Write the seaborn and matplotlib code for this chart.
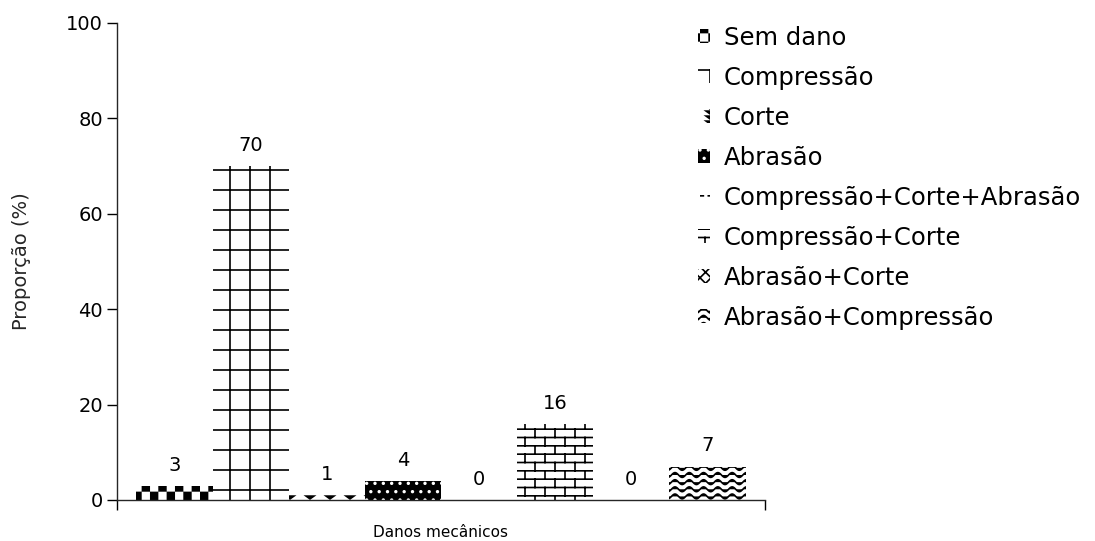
import warnings
import numpy as np
import pandas as pd
import matplotlib
matplotlib.use("Agg")
import matplotlib.pyplot as plt
import matplotlib.patches as mpatches
from matplotlib import hatch as mhatch
from matplotlib.path import Path
import seaborn as sns

warnings.filterwarnings("ignore")

# ---------------------------------------------------------------- data
categorias = [
    "Sem dano",
    "Compressão",
    "Corte",
    "Abrasão",
    "Compressão+Corte+Abrasão",
    "Compressão+Corte",
    "Abrasão+Corte",
    "Abrasão+Compressão",
]
proporcao = [3, 70, 1, 4, 0, 16, 0, 7]
grupo = "Danos mecânicos"
eixo_y = "Proporção (%)"
yticks = [0, 20, 40, 60, 80, 100]


# ---------------------------------------------------------------- custom hatch tiles
class _TileHatch(mhatch.HatchPatternBase):
    """Hatch drawn from a list of polylines inside the unit tile."""
    symbol = None

    def __init__(self, hatch, density):
        self.lines = self.build() if hatch.count(self.symbol) > 0 else []
        self.num_vertices = sum(len(p) for p, _ in self.lines)

    def build(self):
        return []

    def set_vertices_and_codes(self, vertices, codes):
        i = 0
        for pts, closed in self.lines:
            n = len(pts)
            vertices[i:i + n] = pts
            codes[i] = Path.MOVETO
            codes[i + 1:i + n] = Path.LINETO
            if closed:
                codes[i + n - 1] = Path.CLOSEPOLY
            i += n


def _square(x0, y0, x1, y1):
    return np.array([[x0, y0], [x1, y0], [x1, y1], [x0, y1], [x0, y0]])


class CheckerHatch(_TileHatch):
    symbol = "c"

    def build(self, n=12, e=0.008):
        c = 1.0 / n
        out = []
        for i in range(n):
            for j in range(n):
                if (i + j) % 2 == 0:
                    out.append((_square(i * c + e, j * c + e,
                                        (i + 1) * c - e, (j + 1) * c - e), True))
        return out


class GridHatch(_TileHatch):
    symbol = "g"

    def build(self, n=5):
        out = []
        for k in range(n):
            p = (k + 0.5) / n
            out.append((np.array([[p, 0.0], [p, 1.0]]), False))
            out.append((np.array([[0.0, p], [1.0, p]]), False))
        return out


class BrickHatch(_TileHatch):
    symbol = "b"

    def build(self, rows=12, bricks=5):
        h = 1.0 / rows
        out = []
        for r in range(rows):
            y0 = (r + 0.5) * h
            out.append((np.array([[0.0, y0], [1.0, y0]]), False))
            y1 = y0 + h
            for b in range(bricks):
                x = ((b + 0.25 + 0.5 * (r % 2)) / bricks) % 1.0
                if y1 <= 1.0:
                    out.append((np.array([[x, y0], [x, y1]]), False))
                else:
                    out.append((np.array([[x, y0], [x, 1.0]]), False))
                    out.append((np.array([[x, 0.0], [x, y1 - 1.0]]), False))
        return out


class WaveHatch(_TileHatch):
    symbol = "w"

    def build(self, rows=14, periods=7, amp=0.024):
        xs = np.linspace(0.0, 1.0, periods * 16 + 1)
        out = []
        for m in range(rows):
            y0 = (m + 0.5) / rows
            ys = y0 + amp * np.sin(2 * np.pi * periods * xs)
            out.append((np.column_stack([xs, ys]), False))
        return out


class TriangleHatch(_TileHatch):
    symbol = "v"

    def build(self, cols=5, rows=20, e=0.006):
        out = []
        for i in range(cols):
            for j in range(rows):
                cx, cy = (i + 0.5) / cols, (j + 0.5) / rows
                pts = np.array([[cx - 0.045 + e, cy + 0.02 - e],
                                [cx + 0.045 - e, cy + 0.02 - e],
                                [cx, cy - 0.02 + e],
                                [cx - 0.045 + e, cy + 0.02 - e]])
                out.append((pts, True))
        return out


class DashHatch(_TileHatch):
    symbol = "k"

    def build(self, rows=12, cols=12):
        out = []
        for r in range(rows):
            y = (r + 0.5) / rows
            for c in range(cols):
                x0 = (c + 0.5 * (r % 2)) / cols
                x1 = x0 + 0.4 / cols
                if x1 <= 1.0:
                    out.append((np.array([[x0, y], [x1, y]]), False))
        return out


mhatch._hatch_types.extend([CheckerHatch, GridHatch, BrickHatch,
                            WaveHatch, TriangleHatch, DashHatch])
mhatch._validate_hatch_pattern = lambda h: None

# ---------------------------------------------------------------- styles per category
hatches = ["c", "g", "v", "..", "k", "b", "xxx", "w"]
faces = ["white", "white", "white", "black", "white", "white", "white", "white"]
hatch_colors = ["black", "black", "black", "white", "black", "black", "black", "black"]

sns.set_style("ticks")
plt.rcParams["font.family"] = ["DejaVu Sans"]
plt.rcParams["hatch.linewidth"] = 1.2
plt.rcParams["axes.linewidth"] = 1.0
plt.rcParams["text.color"] = "black"
plt.rcParams["xtick.color"] = "black"
plt.rcParams["ytick.color"] = "black"

df = pd.DataFrame({"grupo": grupo, "dano": categorias, "valor": proporcao})

fig = plt.figure(figsize=(10.95, 5.41), dpi=100)
ax = fig.add_axes([0.1068, 0.0758, 0.5918, 0.8817])

sns.barplot(data=df, x="grupo", y="valor", hue="dano", hue_order=categorias,
            palette=dict(zip(categorias, faces)), width=0.94, gap=0,
            dodge=True, errorbar=None, legend=False, saturation=1, ax=ax)

for cont, h, fc, hc, v in zip(ax.containers, hatches, faces, hatch_colors, proporcao):
    for bar in cont:
        bar.set_facecolor(fc)
        bar.set_edgecolor(hc)
        bar.set_linewidth(0)
        bar.set_hatch(h)
    ax.bar_label(cont, labels=[f"{v:d}"], padding=8, fontsize=14)

ax.set_xlim(-0.5, 0.5)
ax.set_ylim(0, 100)
ax.set_yticks(yticks)
ax.set_xlabel("")
ax.set_ylabel(eixo_y, fontsize=14)
ax.yaxis.set_label_coords(-0.133, 0.5)

ax.set_xticks([-0.5, 0.5], minor=True)
ax.tick_params(axis="x", which="major", length=0, pad=18, labelsize=11)
ax.tick_params(axis="x", which="minor", length=7, width=1.0, direction="out")
ax.tick_params(axis="y", length=7, width=1.0, direction="out", pad=3, labelsize=14)
sns.despine(ax=ax, top=True, right=True)

handles = [mpatches.Patch(facecolor=fc, edgecolor=hc, hatch=h, linewidth=0, label=c)
           for c, fc, hc, h in zip(categorias, faces, hatch_colors, hatches)]
fig.legend(handles=handles, loc="upper left", bbox_to_anchor=(0.6374, 0.9525),
           bbox_transform=fig.transFigure, frameon=False, fontsize=17.5,
           handlelength=0.5, handleheight=0.5, handletextpad=0.57,
           labelspacing=0.66, borderpad=0, borderaxespad=0)

fig.savefig("out.png", dpi=100)
